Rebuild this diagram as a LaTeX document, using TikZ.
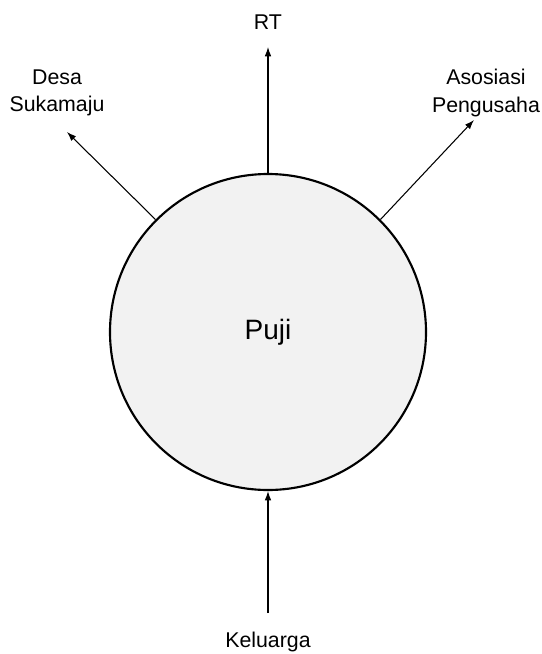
\documentclass[tikz,border=0pt]{standalone}
\usepackage{fontspec}
\setmainfont{Liberation Sans}
\usetikzlibrary{arrows.meta}
\definecolor{circfill}{HTML}{F2F2F2}
\begin{document}
\begin{tikzpicture}[x=0.75pt,y=-0.75pt,
  lbl/.style={align=center,font=\fontsize{16}{20.5}\selectfont,inner sep=0pt},
  conn/.style={line width=0.8pt,-{Latex[length=7pt,width=5pt]}}]
\useasboundingbox (0,0) rectangle (542,654);
\node[circle,draw,line width=1.6pt,fill=circfill,minimum size=316*0.75pt,inner sep=0pt,
  font=\fontsize{21}{25}\selectfont] (puji) at (268,332) {Puji};
\node[lbl] (rt) at (268,22) {RT};
\node[lbl] (desa) at (57,93) {Desa\\Sukamaju};
\node[lbl] (asos) at (486,93) {Asosiasi\\Pengusaha};
\node[lbl] (kel) at (268,642) {Keluarga};
\coordinate (rtend) at (268,47);
\coordinate (desaend) at (67,132);
\coordinate (asosend) at (474,120);
\coordinate (kelstart) at (268,613);
\draw[conn] (puji.north) -- (rtend);
\draw[conn] (puji.135) -- (desaend);
\draw[conn] (puji.45) -- (asosend);
\draw[conn] (kelstart) -- (puji.south);
\end{tikzpicture}
\end{document}
